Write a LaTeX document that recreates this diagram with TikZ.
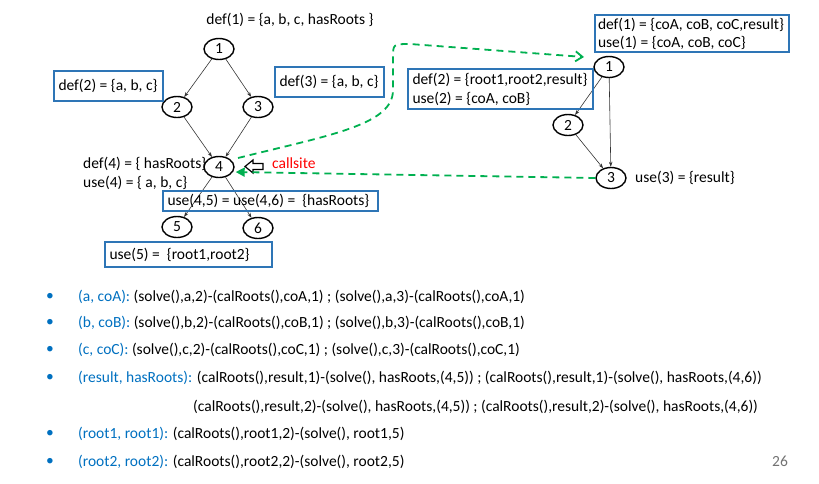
\documentclass[tikz,border=0pt]{standalone}
\usepackage{fontspec}
\setmainfont{Carlito}
\usetikzlibrary{arrows.meta,shapes.geometric}
\definecolor{boxblue}{RGB}{46,117,182}
\definecolor{txtblue}{RGB}{0,112,192}
\definecolor{dgreen}{RGB}{0,176,80}
\definecolor{cred}{RGB}{255,0,0}
\tikzset{
  vert/.style={draw=black,line width=1.4pt,ellipse,minimum width=30pt,minimum height=21pt,inner sep=0pt,font=\fontsize{15.5}{18}\selectfont},
  edge/.style={draw=black!80,line width=0.6pt,-{Stealth[length=5pt,width=3.5pt]}},
  infobox/.style={draw=boxblue,line width=1.4pt,align=flush left,inner xsep=4pt,font=\fontsize{15.5}{19}\selectfont},
  lbl/.style={inner sep=0pt,font=\fontsize{15.5}{19}\selectfont,align=flush left},
  calledge/.style={draw=dgreen,line width=1.8pt,dash pattern=on 7pt off 5pt},
  bul/.style={inner sep=0pt,anchor=west,font=\fontsize{15.5}{18}\selectfont}
}
\begin{document}
\begin{tikzpicture}[x=1pt,y=-1pt]
\useasboundingbox (0,0) rectangle (819,483);
% left graph
\node[vert] (n1) at (219,49) {1};
\node[vert] (n2) at (177,107) {2};
\node[vert] (n3) at (258,107) {3};
\node[vert] (n4) at (219,167) {4};
\node[vert] (n5) at (177,227) {5};
\node[vert] (n6) at (258,228) {6};
\draw[edge] (n1) -- (n2);
\draw[edge] (n1) -- (n3);
\draw[edge] (n2) -- (n4);
\draw[edge] (n3) -- (n4);
\draw[edge] (n4) -- (n5);
\draw[edge] (n4) -- (n6);
\node[lbl] (d1) at (290,20) {def(1) = \{a, b, c, hasRoots \}};
\node[infobox,minimum width=109pt,minimum height=30pt,text width=100pt] (d2) at (108.5,86) {def(2) = \{a, b, c\}};
\node[infobox,minimum width=109pt,minimum height=30pt,text width=100pt] (d3) at (329.5,82) {def(3) = \{a, b, c\}};
\node[lbl,anchor=west] (d4) at (83,173.5) {def(4) = \{ hasRoots\}\\use(4) = \{ a, b, c\}};
\node[infobox,minimum width=215pt,minimum height=20pt,inner ysep=0pt,text width=206pt] (u45) at (270.5,201) {use(4,5) = use(4,6) =\ \ \{hasRoots\}};
\node[infobox,minimum width=167pt,minimum height=25pt,text width=158pt] (u5) at (188.5,254.5) {use(5) =\ \ \{root1,root2\}};
% callsite marker
\draw[black,line width=1.2pt,fill=white] (245,166.5) -- (253,160) -- (253,163.5) -- (263,163.5) -- (263,169.5) -- (253,169.5) -- (253,173) -- cycle;
\node[lbl,anchor=west,text=cred] (cs) at (272,163) {callsite};
% right graph
\node[vert] (r1) at (609,67) {1};
\node[vert] (r2) at (568,125) {2};
\node[vert] (r3) at (611,178) {3};
\draw[edge] (r1) -- (r2);
\draw[edge] (r2) -- (r3);
\draw[edge] (r1) -- (r3);
\node[infobox,minimum width=194pt,minimum height=37pt,text width=188pt,inner xsep=3pt,inner ysep=1pt,font=\fontsize{15.5}{18}\selectfont] (rd1) at (692,33.5) {def(1) = \{coA, coB, coC,result\}\\use(1) = \{coA, coB, coC\}};
\node[infobox,minimum width=185pt,minimum height=40pt,text width=176pt,inner ysep=1pt] (rd2) at (500.5,89) {def(2) = \{root1,root2,result\}\\use(2) = \{coA, coB\}};
\node[lbl,anchor=west] (u3) at (635,178) {use(3) = \{result\}};
% call / return edges
\coordinate (ctip) at (584,57);
\draw[calledge,-{Straight Barb[length=7pt,width=10pt,line width=1.8pt]}] (238,158) .. controls (330,135) and (393,125) .. (393,90) -- (393,58) .. controls (393,44) .. (410,44) -- (ctip);
\draw[calledge,-{Triangle[length=9pt,width=9pt]}] (r3.west) -- ([xshift=1pt,yshift=-5pt]n4.east);
% bullets
\foreach \yy in {297,323,350,378,434,462} {\node[bul,text=txtblue] at (46,\yy) {•};}
\node[bul] (b1) at (78,297) {\textcolor{txtblue}{(a, coA):} (solve(),a,2)-(calRoots(),coA,1) ; (solve(),a,3)-(calRoots(),coA,1)};
\node[bul] (b2) at (78,323) {\textcolor{txtblue}{(b, coB):} (solve(),b,2)-(calRoots(),coB,1) ; (solve(),b,3)-(calRoots(),coB,1)};
\node[bul] (b3) at (78,350) {\textcolor{txtblue}{(c, coC):} (solve(),c,2)-(calRoots(),coC,1) ; (solve(),c,3)-(calRoots(),coC,1)};
\node[bul] (b4) at (78,378) {\textcolor{txtblue}{(result, hasRoots):} (calRoots(),result,1)-(solve(), hasRoots,(4,5)) ; (calRoots(),result,1)-(solve(), hasRoots,(4,6))};
\node[bul] (b5) at (193,407) {(calRoots(),result,2)-(solve(), hasRoots,(4,5)) ; (calRoots(),result,2)-(solve(), hasRoots,(4,6))};
\node[bul] (b6) at (78,434) {\textcolor{txtblue}{(root1, root1):} (calRoots(),root1,2)-(solve(), root1,5)};
\node[bul] (b7) at (78,462) {\textcolor{txtblue}{(root2, root2):} (calRoots(),root2,2)-(solve(), root2,5)};
\node[bul,text=black!55] (pg) at (772,461) {26};
\end{tikzpicture}
\end{document}
